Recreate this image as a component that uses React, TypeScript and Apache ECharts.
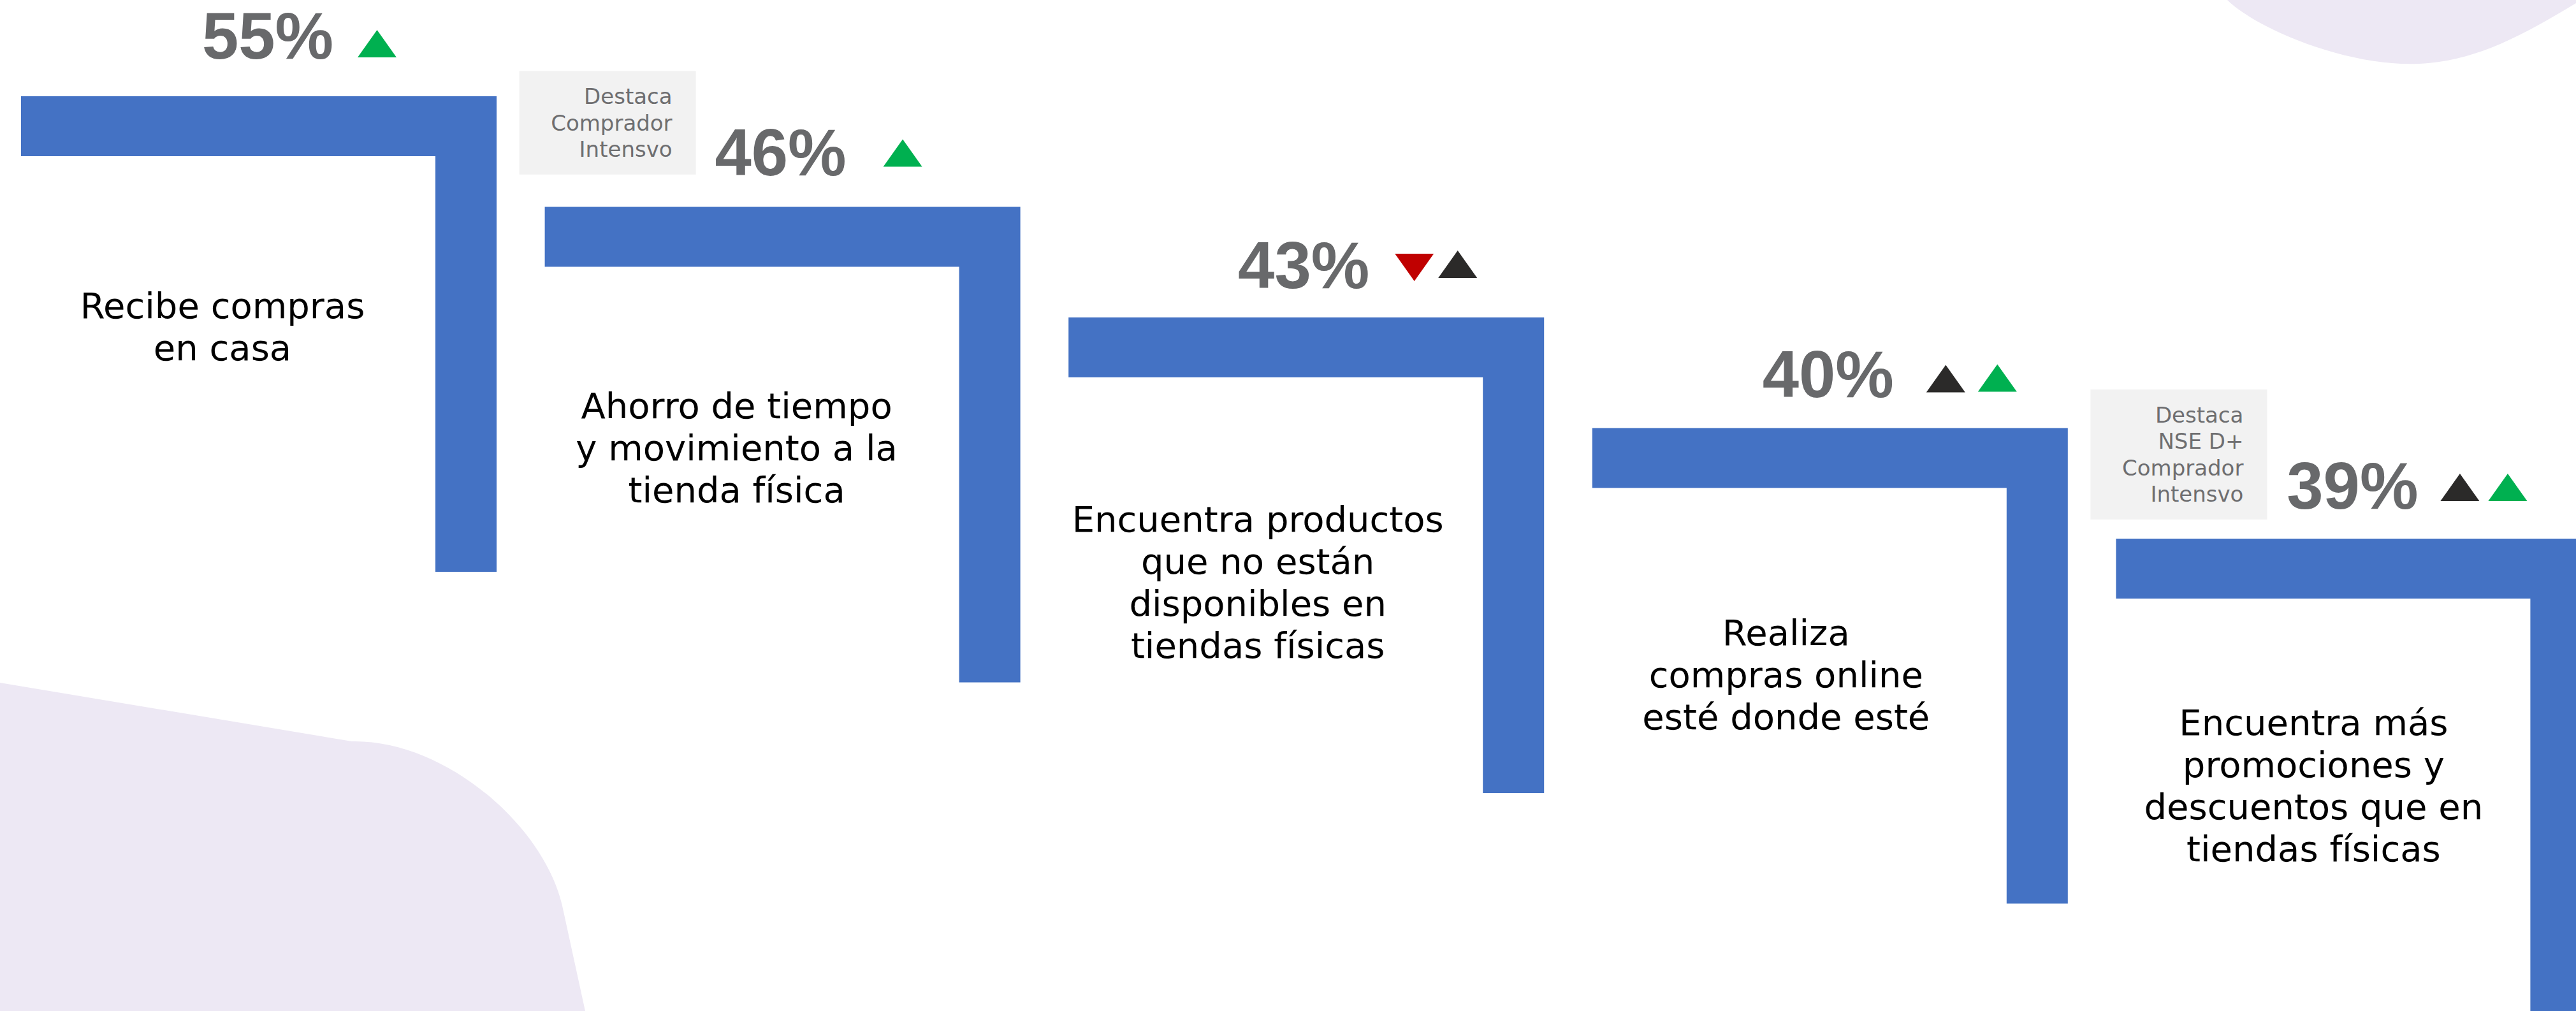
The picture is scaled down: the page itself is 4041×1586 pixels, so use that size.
import React, { useEffect, useRef } from "react";
import * as echarts from "echarts";

// ---------------- data ----------------
const categories = [
  "Recibe compras\nen casa",
  "Ahorro de tiempo\ny movimiento a la\ntienda física",
  "Encuentra productos\nque no están\ndisponibles en\ntiendas físicas",
  "Realiza\ncompras online\nesté donde esté",
  "Encuentra más\npromociones y\ndescuentos que en\ntiendas físicas",
];
const values = [55, 46, 43, 40, 39];
const indicators = [
  ["up-green"],
  ["up-green"],
  ["down-red", "up-black"],
  ["up-black", "up-green"],
  ["up-black", "up-green"],
];
const notes = [
  "",
  "Destaca\nComprador\nIntensvo",
  "",
  "",
  "Destaca\nNSE D+\nComprador\nIntensvo",
];

// ---------------- layout / style ----------------
const W = 4041;
const H = 1586;
const STEP_X = 821.6;
const STEP_Y = 173.5;
const ORIGIN_X = 33;
const ORIGIN_Y = 151;
const ARM = 746;
const THICK_H = 94;
const THICK_V = 96;
const BLUE = "#4472C4";
const GRAY = "#68696B";
const BG = "#EDE8F4";
const TRI_COLORS: Record<string, string> = {
  "up-green": "#00B050",
  "up-black": "#2B2A29",
  "down-red": "#C00000",
};
const pctDx = [387, 370, 369, 370, 371];
const pctDy = [-95, -85, -82, -84, -83];
const labelDx = [316, 301, 297, 304, 310];
const labelDy = [361, 378, 415, 387, 387];
const triDx = [[528], [531], [512, 580], [524, 605], [509, 584]];
const triDy = [[-104], [-106], [-100, -105], [-99, -100], [-102, -102]];
const TRI_W = 61;
const TRI_H = 43;

echarts.graphic.registerShape(
  "blobBL",
  echarts.graphic.extendPath(
    "M0 1071 L552 1163 C700 1160 860 1300 884 1430 L918 1586 L0 1586 Z",
    {}
  )
);
echarts.graphic.registerShape(
  "blobTR",
  echarts.graphic.extendPath(
    "M3494 0 C3540 45 3680 105 3795 100 C3880 96 3950 60 4041 5 L4041 0 Z",
    {}
  )
);

function renderItem(params: any, api: any) {
  const i = params.dataIndex;
  const p = api.coord([api.value(0), api.value(1)]);
  const x0 = p[0];
  const y0 = p[1];
  const children: any[] = [];

  // L-shaped step
  children.push({
    type: "polygon",
    shape: {
      points: [
        [x0, y0],
        [x0 + ARM, y0],
        [x0 + ARM, y0 + ARM],
        [x0 + ARM - THICK_V, y0 + ARM],
        [x0 + ARM - THICK_V, y0 + THICK_H],
        [x0, y0 + THICK_H],
      ],
    },
    style: { fill: BLUE },
  });

  // percentage
  children.push({
    type: "text",
    x: x0 + pctDx[i],
    y: y0 + pctDy[i],
    style: {
      text: api.value(2) + "%",
      fill: GRAY,
      fontFamily: "Liberation Sans, Arial, sans-serif",
      fontWeight: "bold",
      fontSize: 103,
      align: "center",
      verticalAlign: "middle",
    },
  });

  // indicators
  indicators[i].forEach((kind, k) => {
    const l = x0 + triDx[i][k];
    const t = y0 + triDy[i][k];
    const pts =
      kind.indexOf("down") === 0
        ? [
            [l, t],
            [l + TRI_W, t],
            [l + TRI_W / 2, t + TRI_H],
          ]
        : [
            [l, t + TRI_H],
            [l + TRI_W / 2, t],
            [l + TRI_W, t + TRI_H],
          ];
    children.push({
      type: "polygon",
      shape: { points: pts },
      style: { fill: TRI_COLORS[kind] },
    });
  });

  // category label
  children.push({
    type: "text",
    x: x0 + labelDx[i],
    y: y0 + labelDy[i],
    style: {
      text: categories[i],
      fill: "#000000",
      fontFamily: "DejaVu Sans, sans-serif",
      fontSize: 56,
      lineHeight: 66,
      align: "center",
      verticalAlign: "middle",
    },
  });

  // note box
  if (notes[i]) {
    const n = notes[i].split("\n").length;
    const bh = 41.5 * n + 38;
    const cy = y0 - 132;
    children.push({
      type: "rect",
      shape: { x: x0 - 40, y: cy - bh / 2, width: 277, height: bh },
      style: { fill: "#F2F2F2" },
    });
    children.push({
      type: "text",
      x: x0 + 200,
      y: cy,
      style: {
        text: notes[i],
        fill: "#6E6E70",
        fontFamily: "DejaVu Sans, sans-serif",
        fontSize: 34,
        lineHeight: 41.5,
        align: "right",
        verticalAlign: "middle",
      },
    });
  }

  return { type: "group", children };
}

export default function App() {
  const ref = useRef<HTMLDivElement>(null);
  useEffect(() => {
    document.body.style.margin = "0";
    const chart = echarts.init(ref.current!, null, { renderer: "svg" });
    chart.setOption({
      animation: false,
      backgroundColor: "#FFFFFF",
      graphic: [
        { type: "blobBL", x: 0, y: 0, z: 0, silent: true, style: { fill: BG } },
        { type: "blobTR", x: 0, y: 0, z: 0, silent: true, style: { fill: BG } },
      ],
      grid: { left: 0, right: 0, top: 0, bottom: 0, containLabel: false },
      xAxis: {
        type: "value",
        show: false,
        min: -ORIGIN_X / STEP_X,
        max: (W - ORIGIN_X) / STEP_X,
      },
      yAxis: {
        type: "value",
        show: false,
        inverse: true,
        min: -ORIGIN_Y / STEP_Y,
        max: (H - ORIGIN_Y) / STEP_Y,
      },
      series: [
        {
          type: "custom",
          coordinateSystem: "cartesian2d",
          clip: false,
          z: 5,
          silent: true,
          data: values.map((v, i) => [i, i, v]),
          encode: { x: 0, y: 1 },
          renderItem,
        },
      ],
    });
    return () => chart.dispose();
  }, []);
  return <div ref={ref} style={{ width: W, height: H }} />;
}
